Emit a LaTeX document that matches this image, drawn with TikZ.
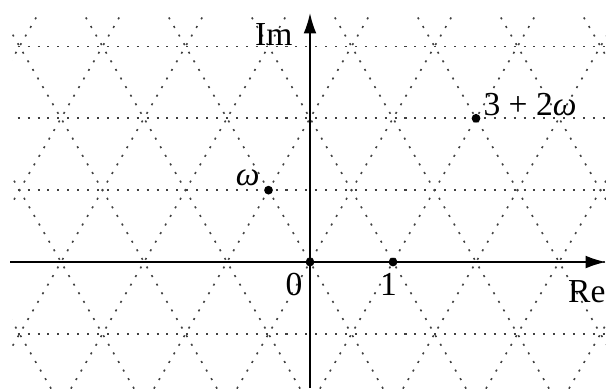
\documentclass[tikz,border=0pt]{standalone}
\usepackage{fontspec}
\setmainfont{Liberation Serif}
\usetikzlibrary{arrows.meta}

\tikzset{
  lattice/.style={black!75,line width=0.55pt,dash pattern=on 0.7pt off 2.7pt},
  axis/.style={black,line width=0.6pt,-{Latex[length=7pt,width=4.4pt]}},
  pt/.style={circle,fill,inner sep=0pt,minimum size=3pt},
  lab/.style={inner sep=0pt}
}

\begin{document}
\begin{tikzpicture}[font=\fontsize{11.5}{14}\selectfont]
  \useasboundingbox (-3.735,-1.518) rectangle (3.566,3.157);
  \begin{scope}
    \clip (-3.59,-1.518) rectangle (3.566,2.976);
    \foreach \k in {-1,...,3} \draw[lattice] (-4,\k*0.866) -- (4,\k*0.866);
    \foreach \n in {-8,...,8} {
      \draw[lattice] (\n-1,-1.732) -- (\n+2,3.464);
      \draw[lattice] (\n+1,-1.732) -- (\n-2,3.464);
    }
  \end{scope}
  \coordinate (reS) at (-3.614,0);
  \coordinate (reE) at (3.566,0);
  \coordinate (imS) at (0,-1.518);
  \coordinate (imE) at (0,3);
  \draw[axis] (reS) -- (reE);
  \draw[axis] (imS) -- (imE);
  \node[pt] (o) at (0,0) {};
  \node[pt] (one) at (1,0) {};
  \node[pt] (w) at (-0.5,0.866) {};
  \node[pt] (p) at (2,1.732) {};
  \node[lab,anchor=base east] (lo) at ([xshift=-2.4pt,yshift=-11.3pt]o.center) {0};
  \node[lab,anchor=base] (lone) at ([xshift=-1.5pt,yshift=-11.3pt]one.center) {1};
  \node[lab,anchor=base east] (lw) at ([xshift=-2.9pt,yshift=1.7pt]w.center) {\textit{ω}};
  \node[lab,anchor=base west] (lp) at ([xshift=2.4pt,yshift=1pt]p.center) {3 + 2\textit{ω}};
  \node[lab,anchor=base east] (lre) at ([yshift=-13.7pt]reE) {Re};
  \node[lab,anchor=base east] (lim) at ([xshift=-5.8pt,yshift=-11pt]imE) {Im};
\end{tikzpicture}
\end{document}
